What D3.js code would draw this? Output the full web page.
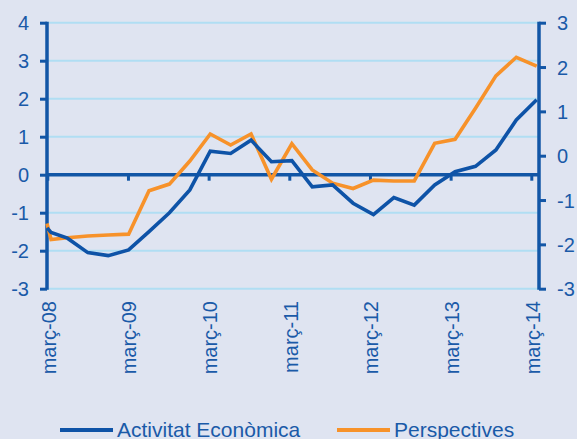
<!DOCTYPE html>
<html><head><meta charset="utf-8">
<script src="https://cdn.jsdelivr.net/npm/d3@7"></script>
<style>
html,body{margin:0;padding:0;background:#dfe4f1;}
svg{display:block;font-family:"Liberation Sans",Arial,sans-serif;}
</style></head>
<body><svg id="c" width="577" height="439"></svg>
<script>
// quarter index (0 = març-08, 24 = març-14)
const periods = [0, 0.2, 1, 2, 3, 4, 5, 6, 7, 8, 9, 10, 11, 12, 13, 14, 15, 16, 17, 18, 19, 20, 21, 22, 23, 24];
const activitat = [-1.40, -1.52, -1.67, -2.05, -2.13, -1.98, -1.50, -1.00, -0.40, 0.62, 0.56, 0.91, 0.34, 0.37, -0.32, -0.27, -0.75, -1.05, -0.60, -0.80, -0.27, 0.08, 0.22, 0.65, 1.44, 1.97];
const perspectives = [-1.53, -1.89, -1.85, -1.81, -1.79, -1.77, -0.79, -0.64, -0.12, 0.49, 0.24, 0.49, -0.53, 0.27, -0.32, -0.62, -0.74, -0.55, -0.57, -0.57, 0.28, 0.37, 1.07, 1.80, 2.22, 2.02];
const xTickLabels = ["març-08", "març-09", "març-10", "març-11", "març-12", "març-13", "març-14"];
const leftTicks = [-3, -2, -1, 0, 1, 2, 3, 4];
const rightTicks = [-3, -2, -1, 0, 1, 2, 3];
const seriesNames = ["Activitat Econòmica", "Perspectives"];

const AX = "#1256a6", TXT = "#1a5aa8", GRID = "#b0def3";
const BLUE = "#0e53a7", ORANGE = "#f7922a";

const svg = d3.select("#c");
svg.append("rect").attr("width", 577).attr("height", 439).attr("fill", "#dfe4f1");

const x = d3.scaleLinear().domain([0, 24]).range([47, 536.7]);
const xt = d3.scalePoint().domain(xTickLabels).range([47.3, 531.3]);
const yL = d3.scaleLinear().domain([-3, 4]).range([288.7, 22.7]);
const yR = d3.scaleLinear().domain([-3, 3]).range([288.7, 22.7]);
const plotL = 47, plotR = 539;
const fmt = d => String(d);

// gridlines
svg.append("g").selectAll("line").data(leftTicks.filter(d => d !== 0)).join("line")
  .attr("x1", plotL).attr("x2", plotR)
  .attr("y1", d => yL(d)).attr("y2", d => yL(d))
  .attr("stroke", GRID).attr("stroke-width", 2);

// left axis
const gl = svg.append("g").attr("transform", `translate(${plotL},0)`)
  .call(d3.axisLeft(yL).tickValues(leftTicks).tickSize(7).tickPadding(11).tickFormat(fmt));
gl.select(".domain").attr("stroke", AX).attr("stroke-width", 3.5).attr("d", `M0,${yL(4)-1}V${yL(-3)+1}`);
gl.selectAll(".tick line").attr("stroke", AX).attr("stroke-width", 3);
gl.selectAll(".tick text").attr("fill", TXT).attr("font-size", 20).attr("dy", "0.36em");

// right axis
const gr = svg.append("g").attr("transform", `translate(${plotR},0)`)
  .call(d3.axisRight(yR).tickValues(rightTicks).tickSize(7).tickPadding(11).tickFormat(fmt));
gr.select(".domain").attr("stroke", AX).attr("stroke-width", 3.5).attr("d", `M0,${yR(3)-1}V${yR(-3)+1}`);
gr.selectAll(".tick line").attr("stroke", AX).attr("stroke-width", 3);
gr.selectAll(".tick text").attr("fill", TXT).attr("font-size", 20).attr("dy", "0.36em");

// x axis at zero
const gx = svg.append("g").attr("transform", `translate(0,${yL(0)})`)
  .call(d3.axisBottom(xt).tickSize(6).tickFormat(""));
gx.select(".domain").attr("stroke", AX).attr("stroke-width", 3.5).attr("d", `M${plotL},0H${plotR}`);
gx.selectAll(".tick line").attr("stroke", AX).attr("stroke-width", 3);

// x labels (rotated) below plot
svg.append("g").selectAll("text").data(xTickLabels).join("text")
  .attr("transform", d => `translate(${xt(d) + 8.5},301) rotate(-90)`)
  .attr("text-anchor", "end").attr("fill", TXT).attr("font-size", 20)
  .text(d => d);

// lines
const pts = (vals, ys) => periods.map((p, i) => [x(p), ys(vals[i])]);
const line = d3.line();
svg.append("path").attr("d", line(pts(perspectives, yR))).attr("fill", "none")
  .attr("stroke", ORANGE).attr("stroke-width", 3.6).attr("stroke-linejoin", "miter");
svg.append("path").attr("d", line(pts(activitat, yL))).attr("fill", "none")
  .attr("stroke", BLUE).attr("stroke-width", 3.6).attr("stroke-linejoin", "miter");

// legend
const leg = [{name: seriesNames[0], c: BLUE, x0: 60}, {name: seriesNames[1], c: ORANGE, x0: 337}];
const lg = svg.append("g").selectAll("g").data(leg).join("g");
lg.append("line").attr("x1", d => d.x0).attr("x2", d => d.x0 + 53)
  .attr("y1", 430).attr("y2", 430).attr("stroke", d => d.c).attr("stroke-width", 4);
lg.append("text").attr("x", d => d.x0 + 57).attr("y", 437).attr("fill", TXT)
  .attr("font-size", 21).text(d => d.name);
</script></body></html>
